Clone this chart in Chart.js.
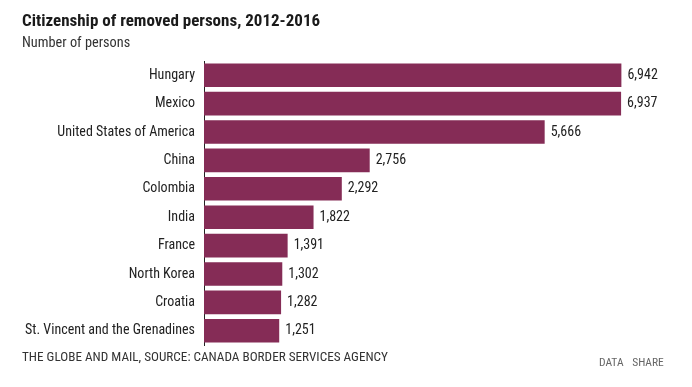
<!DOCTYPE html>
<html><head><meta charset="utf-8">
<script src="https://cdn.jsdelivr.net/npm/chart.js@4"></script>
<style>
html,body{margin:0;padding:0;background:#fff;width:692px;height:387px;overflow:hidden;font-family:"Roboto Condensed",Roboto,sans-serif;}
#wrap{position:absolute;left:0;top:0;width:692px;height:387px;}
.t{position:absolute;white-space:nowrap;color:#222;}
#title{left:22px;top:10px;font-size:17px;font-weight:bold;color:#1a1a1a;}
#sub{left:22px;top:34px;font-size:14.3px;color:#333;}
#src{left:22px;top:349px;font-size:13.2px;color:#333;}
#ds{left:599px;top:355px;font-size:11.5px;color:#666;word-spacing:6px;}
</style></head>
<body>
<div id="wrap"><canvas id="c" width="692" height="387"></canvas></div>
<div class="t" id="title">Citizenship of removed persons, 2012-2016</div>
<div class="t" id="sub">Number of persons</div>
<div class="t" id="src">THE GLOBE AND MAIL, SOURCE: CANADA BORDER SERVICES AGENCY</div>
<div class="t" id="ds">DATA SHARE</div>
<script>
const categories = ["Hungary","Mexico","United States of America","China","Colombia","India","France","North Korea","Croatia","St. Vincent and the Grenadines"];
const values = [6942,6937,5666,2756,2292,1822,1391,1302,1282,1251];

const FONT = '"Roboto Condensed",Roboto,sans-serif';
const valueLabels = {
  id:'valueLabels',
  afterDatasetsDraw(chart){
    const ctx = chart.ctx;
    const meta = chart.getDatasetMeta(0);
    ctx.save();
    ctx.font = '14px ' + FONT;
    ctx.fillStyle = '#222';
    ctx.textBaseline = 'middle';
    ctx.textAlign = 'left';
    meta.data.forEach((bar,i)=>{
      ctx.fillText(values[i].toLocaleString('en-US'), bar.x + 6, bar.y);
    });
    ctx.restore();
  }
};

new Chart(document.getElementById('c'), {
  type:'bar',
  data:{labels:categories, datasets:[{data:values, backgroundColor:'#852c56', barPercentage:0.83, categoryPercentage:1.0}]},
  options:{
    indexAxis:'y', responsive:false, animation:false,
    layout:{padding:{top:61,bottom:42,left:0,right:7}},
    plugins:{legend:{display:false}, tooltip:{enabled:false}},
    scales:{
      x:{display:false, min:0, max:8000},
      y:{
        grid:{display:false, drawTicks:false},
        border:{display:true, color:'#222', width:1},
        ticks:{color:'#222', padding:9, font:{family:FONT, size:14}},
        afterFit(s){ s.width = 204; }
      }
    }
  },
  plugins:[valueLabels]
});
</script>
</body></html>
